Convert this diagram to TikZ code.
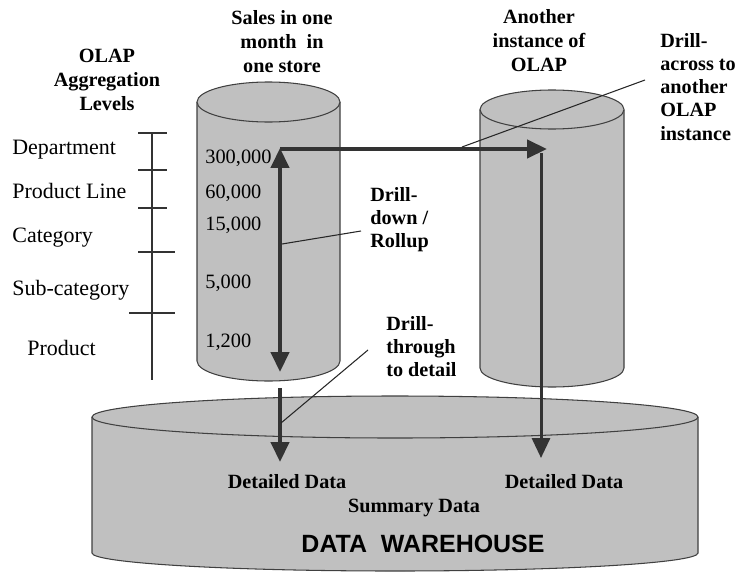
\documentclass[tikz,border=0pt]{standalone}
\usepackage{fontspec}
\setmainfont{Liberation Serif}
\newfontfamily\headsans{Liberation Sans}
\usepackage{tikz}
\usetikzlibrary{arrows.meta,positioning,calc}
\definecolor{drumgray}{HTML}{C0C0C0}
\definecolor{drumline}{HTML}{404040}
\definecolor{flowdark}{HTML}{333333}
\tikzset{
  drum/.style={draw=drumline, fill=drumgray, line width=0.6pt},
  level/.style={inner sep=0pt, anchor=base west, font=\fontsize{12.5}{15}\selectfont},
  amount/.style={inner sep=0pt, anchor=base west, font=\fontsize{11.6}{14}\selectfont},
  caption/.style={inner sep=0pt, anchor=north, align=center,
    font=\fontsize{11.5}{13.6}\selectfont\bfseries},
  opname/.style={inner sep=0pt, anchor=north west, align=left,
    font=\fontsize{11.5}{13.2}\selectfont\bfseries},
  datalabel/.style={inner sep=0pt, anchor=base, font=\fontsize{11.5}{14}\selectfont\bfseries},
  flow/.style={line width=2.3pt, color=flowdark},
  bigtip/.tip={Triangle[width=10.2pt, length=11.3pt]},
  pointer/.style={line width=0.6pt, color=black!85},
  scalebar/.style={line width=0.6pt, color=black!80},
}
\begin{document}
\begin{tikzpicture}[x=0.02cm, y=-0.02cm]
  \useasboundingbox (0,0) rectangle (739,571);

  % the warehouse drum
  \filldraw[drum] (92,417) -- (92,553) arc[start angle=180, end angle=0, x radius=303, y radius=18] -- (698,417);
  \filldraw[drum] (395,417) ellipse[x radius=303, y radius=21];
  % the two OLAP drums
  \filldraw[drum] (197,102) -- (197,361) arc[start angle=180, end angle=0, x radius=71.5, y radius=20] -- (340,102);
  \filldraw[drum] (268.5,102) ellipse[x radius=71.5, y radius=20];
  \filldraw[drum] (480,109.5) -- (480,368) arc[start angle=180, end angle=0, x radius=72, y radius=19] -- (624,109.5);
  \filldraw[drum] (552,109.5) ellipse[x radius=72, y radius=19.5];

  % aggregation scale
  \draw[scalebar] (152,133) -- (152,380)
    (138,133) -- (167,133) (138,170) -- (167,170) (138,208) -- (167,208)
    (138,252) -- (175,252) (129,313) -- (175,313);

  \node[caption] (levelshead) at (107,49) {OLAP\\Aggregation\\Levels};
  \node[caption] (saleshead) at (282,10) {Sales in one\\month~ in\\one store};
  \node[caption] (otherhead) at (539,9) {Another\\instance of\\OLAP};

  \node[level] (dept) at (12,154) {Department};
  \node[level] (pline) at (12,198) {Product Line};
  \node[level] (categ) at (12,242) {Category};
  \node[level] (subcat) at (12,295) {Sub-category};
  \node[level] (prod) at (27,355) {Product};

  \node[amount] (vdept) at (205,163) {300,000};
  \node[amount] (vpline) at (205,198) {60,000};
  \node[amount] (vcateg) at (205,230) {15,000};
  \node[amount] (vsubcat) at (205,288) {5,000};
  \node[amount] (vprod) at (205,347) {1,200};

  \node[opname] (acrosslbl) at (660,33) {Drill-\\across to\\another\\OLAP\\instance};
  \node[opname] (downlbl) at (370,187) {Drill-\\down /\\Rollup};
  \node[opname] (throughlbl) at (386,316) {Drill-\\through\\to detail};

  \node[datalabel] (detleft) at (287,488) {Detailed Data};
  \node[datalabel] (detright) at (564,488) {Detailed Data};
  \node[datalabel] (summary) at (414,512) {Summary Data};
  \node[inner sep=0pt, anchor=base, font=\headsans\fontsize{14.2}{17}\selectfont\bfseries]
    (dwname) at (423,552) {DATA\ \ WAREHOUSE};

  % arrows
  \coordinate (ddtop) at (280,148);
  \coordinate (ddbot) at (280,372);
  \coordinate (acrossfrom) at (280,149);
  \coordinate (acrossto) at (547,149);
  \coordinate (otherfrom) at (541,153);
  \coordinate (otherto) at (541,458);
  \coordinate (thrufrom) at (280,388);
  \coordinate (thruto) at (280,462);
  \draw[flow, bigtip-bigtip] (ddtop) -- (ddbot);
  \draw[flow, -bigtip] (acrossfrom) -- (acrossto);
  \draw[flow, line width=1.7pt, -bigtip] (otherfrom) -- (otherto);
  \draw[flow, -bigtip] (thrufrom) -- (thruto);

  % pointers to the operation names
  \coordinate (downfoot) at (282,244);
  \coordinate (downend) at (361,231);
  \coordinate (acrossfoot) at (462,147);
  \coordinate (acrossend) at (645,80);
  \coordinate (thrufoot) at (281,423);
  \coordinate (thruend) at (368,350);
  \draw[pointer] (downfoot) -- (downend);
  \draw[pointer] (acrossfoot) -- (acrossend);
  \draw[pointer] (thrufoot) -- (thruend);
\end{tikzpicture}
\end{document}
